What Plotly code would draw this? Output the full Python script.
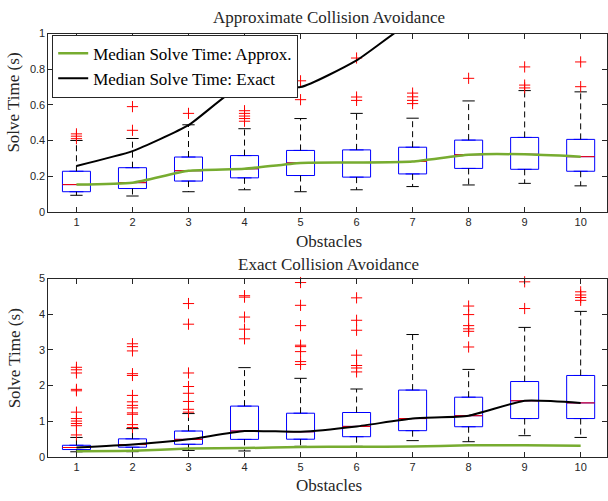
import plotly.graph_objects as go
from plotly.subplots import make_subplots

obstacles = [1, 2, 3, 4, 5, 6, 7, 8, 9, 10]

# Approximate collision avoidance box stats
a_q1 = [0.112, 0.130, 0.172, 0.190, 0.203, 0.194, 0.212, 0.243, 0.238, 0.227]
a_med = [0.152, 0.163, 0.230, 0.241, 0.274, 0.276, 0.282, 0.320, 0.322, 0.309]
a_q3 = [0.227, 0.247, 0.307, 0.315, 0.344, 0.347, 0.362, 0.402, 0.417, 0.406]
a_lo = [0.092, 0.088, 0.112, 0.123, 0.112, 0.123, 0.141, 0.150, 0.159, 0.145]
a_hi = [0.400, 0.411, 0.488, 0.466, 0.523, 0.552, 0.525, 0.622, 0.680, 0.673]
a_out = [
    [0.437, 0.424, 0.410],
    [0.457, 0.590],
    [0.552],
    [0.567, 0.552, 0.537, 0.523, 0.508],
    [0.629, 0.735],
    [0.625, 0.644, 0.863],
    [0.607, 0.625, 0.645, 0.666],
    [0.749],
    [0.695, 0.711, 0.813],
    [0.702, 0.841],
]

# Exact collision avoidance box stats
e_q1 = [0.200, 0.266, 0.348, 0.485, 0.490, 0.560, 0.730, 0.840, 1.070, 1.070]
e_med = [0.257, 0.340, 0.486, 0.720, 0.700, 0.850, 1.070, 1.150, 1.570, 1.510]
e_q3 = [0.320, 0.500, 0.720, 1.420, 1.220, 1.240, 1.870, 1.670, 2.110, 2.280]
e_lo = [0.137, 0.140, 0.175, 0.160, 0.290, 0.290, 0.450, 0.420, 0.590, 0.540]
e_hi = [0.540, 0.787, 1.210, 2.500, 2.200, 1.900, 3.430, 2.450, 3.630, 4.080]
e_out = [
    [2.51, 2.44, 2.35, 1.89, 1.85, 1.25, 1.07, 1.00, 0.93, 0.87, 0.61],
    [3.17, 3.09, 2.97, 2.33, 2.28, 1.72, 1.54, 1.44, 1.37, 1.23, 1.19, 0.90, 0.82],
    [4.30, 3.72, 2.35, 1.97, 1.78, 1.55, 1.33, 1.25],
    [4.52, 4.48, 3.92, 3.58, 3.31],
    [4.89, 4.25, 3.68, 3.13, 3.09, 2.95, 2.67, 2.59],
    [4.46, 3.83, 3.55, 2.85, 2.56, 2.49, 2.38],
    [],
    [4.23, 3.99, 3.68, 3.59, 3.52, 3.08],
    [4.91, 4.16],
    [4.63, 4.54, 4.47, 4.39],
]

approx_median_line = a_med
exact_median_line = e_med

BOX_W = 0.5
CAP_W = 0.22
SERIF = "Liberation Serif"
SANS = "Liberation Sans"
GREEN = "#77AC30"

fig = make_subplots(rows=2, cols=1)


def add_boxes(row, q1, med, q3, lo, hi, outs):
    fig.add_trace(go.Box(
        x=obstacles, q1=q1, median=med, q3=q3, lowerfence=q1, upperfence=q3,
        width=BOX_W, line=dict(color="#0000FF", width=1), fillcolor="rgba(0,0,0,0)",
        boxpoints=False, showlegend=False, hoverinfo="skip"), row=row, col=1)
    wx, wy, cx, cy, mx, my = [], [], [], [], [], []
    for xi, a, m, b, l, h in zip(obstacles, q1, med, q3, lo, hi):
        wx += [xi, xi, None, xi, xi, None]
        wy += [b, h, None, a, l, None]
        cx += [xi - CAP_W / 2, xi + CAP_W / 2, None, xi - CAP_W / 2, xi + CAP_W / 2, None]
        cy += [h, h, None, l, l, None]
        mx += [xi - BOX_W / 2, xi + BOX_W / 2, None]
        my += [m, m, None]
    fig.add_trace(go.Scatter(x=wx, y=wy, mode="lines", showlegend=False, hoverinfo="skip",
                             line=dict(color="black", width=1, dash="6px,4px")), row=row, col=1)
    fig.add_trace(go.Scatter(x=cx, y=cy, mode="lines", showlegend=False, hoverinfo="skip",
                             line=dict(color="black", width=1)), row=row, col=1)
    fig.add_trace(go.Scatter(x=mx, y=my, mode="lines", showlegend=False, hoverinfo="skip",
                             line=dict(color="#FF0000", width=1)), row=row, col=1)
    ox, oy = [], []
    for xi, vals in zip(obstacles, outs):
        for v in vals:
            ox.append(xi)
            oy.append(v)
    fig.add_trace(go.Scatter(x=ox, y=oy, mode="markers", showlegend=False, hoverinfo="skip",
                             cliponaxis=False,
                             marker=dict(symbol="cross-thin", size=8,
                                         line=dict(color="#FF0000", width=1))), row=row, col=1)


def add_lines(row, legend):
    fig.add_trace(go.Scatter(x=obstacles, y=approx_median_line, mode="lines",
                             name="Median Solve Time: Approx.", showlegend=legend,
                             line=dict(color=GREEN, width=2.5, shape="spline", smoothing=0.5)),
                  row=row, col=1)
    fig.add_trace(go.Scatter(x=obstacles, y=exact_median_line, mode="lines",
                             name="Median Solve Time: Exact", showlegend=legend,
                             line=dict(color="black", width=2, shape="spline", smoothing=0.5)),
                  row=row, col=1)


add_boxes(1, a_q1, a_med, a_q3, a_lo, a_hi, a_out)
add_lines(1, True)
add_boxes(2, e_q1, e_med, e_q3, e_lo, e_hi, e_out)
add_lines(2, False)

axis_common = dict(showline=True, linecolor="#262626", linewidth=1, mirror="ticks",
                   ticks="inside", ticklen=5, tickcolor="#262626", showgrid=False,
                   zeroline=False, tickfont=dict(family=SANS, size=11, color="#262626"))

fig.update_xaxes(range=[0.5, 10.47], tickvals=obstacles, domain=[0.0798, 1.0], **axis_common)
fig.update_yaxes(**axis_common)
fig.update_yaxes(range=[0, 1], tickvals=[0, 0.2, 0.4, 0.6, 0.8, 1],
                 ticktext=["0", "0.2", "0.4", "0.6", "0.8", "1"], domain=[0.5794, 0.9435], row=1, col=1)
fig.update_yaxes(range=[0, 5], tickvals=[0, 1, 2, 3, 4, 5], domain=[0.0784, 0.4425], row=2, col=1)

tfont = dict(family=SERIF, size=17, color="#262626")
anns = [
    dict(text="Approximate Collision Avoidance", x=0.542, y=0.976),
    dict(text="Exact Collision Avoidance", x=0.542, y=0.471),
    dict(text="Obstacles", x=0.542, y=0.519),
    dict(text="Obstacles", x=0.542, y=0.020),
    dict(text="Solve Time (s)", x=0.023, y=0.8024, textangle=-90),
    dict(text="Solve Time (s)", x=0.023, y=0.2794, textangle=-90),
]
for a in anns:
    fig.add_annotation(xref="paper", yref="paper", showarrow=False, xanchor="center",
                       yanchor="middle", font=tfont, **a)

fig.update_layout(
    width=608, height=501, margin=dict(l=0, r=0, t=0, b=0),
    paper_bgcolor="white", plot_bgcolor="white",
    legend=dict(x=0.086, y=0.9415, xanchor="left", yanchor="top", bgcolor="white",
                bordercolor="#262626", borderwidth=1, font=dict(family=SERIF, size=17, color="black"),
                tracegroupgap=0),
)

fig.write_html("out.html")
